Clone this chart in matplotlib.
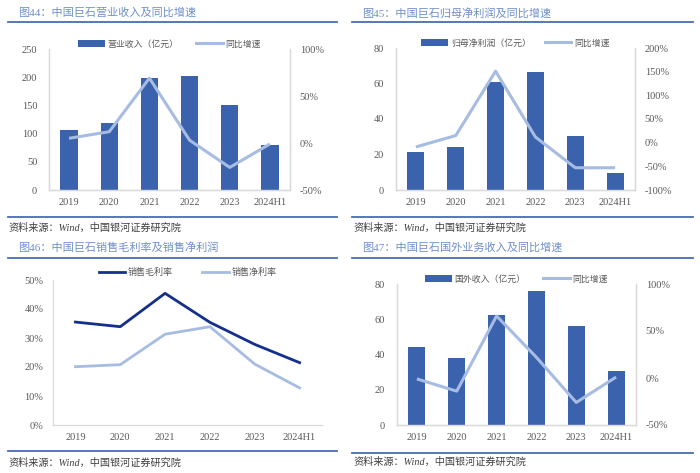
import matplotlib
matplotlib.use('Agg')
import matplotlib.pyplot as plt
from matplotlib.patches import Patch
from matplotlib.lines import Line2D
from matplotlib.ticker import FuncFormatter, FixedLocator

# ---------------- data ----------------
years = ['2019', '2020', '2021', '2022', '2023', '2024H1']
revenue = [106, 118, 199, 203, 150, 79]            # 亿元
revenue_yoy = [5, 12, 69, 3, -26, -1]               # %
net_profit = [21.5, 24.4, 60.7, 66.5, 30.7, 9.7]    # 亿元
net_profit_yoy = [-9, 15, 151, 12, -53, -53]        # %
gross_margin = [35.5, 33.9, 45.4, 35.4, 27.8, 21.5] # %
net_margin = [20.1, 20.8, 31.3, 33.9, 21.0, 12.8]   # %
overseas = [44.2, 37.8, 62.2, 75.8, 56.1, 30.6]     # 亿元
overseas_yoy = [-1, -14, 66, 22, -26, 1]            # %

titles = ['图44：中国巨石营业收入及同比增速',
          '图45：中国巨石归母净利润及同比增速',
          '图46：中国巨石销售毛利率及销售净利润',
          '图47：中国巨石国外业务收入及同比增速']
source = '资料来源：Wind，中国银河证券研究院'

# ---------------- style ----------------
W, H = 700, 473
BAR = '#3A62AD'
LIGHT = '#A6BCE3'
DARK = '#14308C'
TITLE_C = '#6F8FCB'
SEP_C = '#4A6CB3'
AX_C = '#D9D9D9'
TXT_C = '#595959'
CJK = ['Noto Sans CJK SC', 'DejaVu Sans']
SERIF = ['Liberation Serif', 'Noto Sans CJK SC']

plt.rcParams['font.family'] = CJK

fig = plt.figure(figsize=(7, 4.73), dpi=100)
fig.patch.set_facecolor('white')


def axes_px(x0, y0, x1, y1):
    return fig.add_axes([x0 / W, 1 - y1 / H, (x1 - x0) / W, (y1 - y0) / H])


def hline(x0, x1, y):
    fig.add_artist(Line2D([x0 / W, x1 / W], [1 - y / H, 1 - y / H],
                          transform=fig.transFigure, color=SEP_C, lw=1.3))


def frame(x0, x1, ytitle, ysep1, ysep2, ysrc, title, xtitle, xsrc):
    fig.text(xtitle / W, 1 - ytitle / H, title, ha='left', va='center',
             fontsize=8.0, color=TITLE_C, family=SERIF)
    hline(x0, x1, ysep1)
    hline(x0, x1, ysep2)
    fig.text(xsrc / W, 1 - ysrc / H, source, ha='left', va='center',
             fontsize=7.3, color='#404040', family=SERIF, style='italic')


def style_axes(ax, left=True, right=False):
    ax.spines['top'].set_visible(False)
    ax.spines['left'].set_visible(left)
    ax.spines['right'].set_visible(right)
    for s in ['left', 'right', 'bottom']:
        ax.spines[s].set_color(AX_C)
        ax.spines[s].set_linewidth(0.9)
    ax.tick_params(length=0, labelsize=7.5, labelcolor=TXT_C)
    for lab in ax.get_xticklabels() + ax.get_yticklabels():
        lab.set_family(SERIF)


def pct(v, pos):
    return f'{v:.0f}%'


def bar_line_panel(box, bars, yoy, bar_label, lticks, rticks, colspace):
    x = list(range(len(years)))
    ax = axes_px(*box)
    ax.bar(x, bars, width=0.43, color=BAR, zorder=2)
    ax.set_xlim(-0.5, len(years) - 0.5)
    ax.set_ylim(lticks[0], lticks[-1])
    ax.yaxis.set_major_locator(FixedLocator(lticks))
    ax.set_xticks(x)
    ax.set_xticklabels(years)
    ax2 = ax.twinx()
    ax2.plot(x, yoy, color=LIGHT, lw=2.2, solid_capstyle='butt', zorder=3)
    ax2.set_ylim(rticks[0], rticks[-1])
    ax2.yaxis.set_major_locator(FixedLocator(rticks))
    ax2.yaxis.set_major_formatter(FuncFormatter(pct))
    for a in (ax, ax2):
        a.set_facecolor('none')
        style_axes(a, left=True, right=True)
    ax.tick_params(axis='y', pad=8.5)
    ax.tick_params(axis='x', pad=6)
    ax2.tick_params(axis='y', pad=7)
    handles = [Patch(facecolor=BAR, edgecolor='none'),
               Line2D([], [], color=LIGHT, lw=2.2)]
    ax2.legend(handles, [bar_label, '同比增速'], ncol=2, loc='center',
               bbox_to_anchor=(0.5, 1.035), frameon=False,
               prop={'family': CJK, 'size': 6.4}, labelcolor=TXT_C,
               handlelength=3.0, handleheight=0.7, handletextpad=0.3,
               columnspacing=colspace, borderaxespad=0, borderpad=0)
    return ax, ax2


# ---------------- panel 1 ----------------
frame(8, 337, 13, 22, 217, 228, titles[0], 18, 8)
bar_line_panel((49, 49, 290, 190), revenue, revenue_yoy, '营业收入（亿元）',
               [0, 50, 100, 150, 200, 250], [-50, 0, 50, 100], 2.0)

# ---------------- panel 2 ----------------
frame(352, 693, 13, 22, 217, 228, titles[1], 362, 353)
bar_line_panel((396, 48, 635, 190), net_profit, net_profit_yoy, '归母净利润（亿元）',
               [0, 20, 40, 60, 80], [-100, -50, 0, 50, 100, 150, 200], 1.6)

# ---------------- panel 3 ----------------
frame(8, 337, 248, 258, 451, 463, titles[2], 18, 8)
ax3 = axes_px(53, 280, 322, 425)
x = list(range(len(years)))
ax3.plot(x, gross_margin, color=DARK, lw=2.0, label='销售毛利率')
ax3.plot(x, net_margin, color=LIGHT, lw=2.0, label='销售净利率')
ax3.set_xlim(-0.5, len(years) - 0.5)
ax3.set_ylim(0, 50)
ax3.yaxis.set_major_locator(FixedLocator([0, 10, 20, 30, 40, 50]))
ax3.yaxis.set_major_formatter(FuncFormatter(pct))
ax3.set_xticks(x)
ax3.set_xticklabels(years)
style_axes(ax3, left=True, right=False)
ax3.tick_params(axis='y', pad=7)
ax3.tick_params(axis='x', pad=6)
ax3.legend(ncol=2, loc='center', bbox_to_anchor=(0.5, 1.05), frameon=False,
           prop={'family': CJK, 'size': 6.5}, labelcolor=TXT_C,
           handlelength=2.9, handletextpad=0.3, columnspacing=3.3,
           borderaxespad=0, borderpad=0)

# ---------------- panel 4 ----------------
frame(352, 693, 248, 258, 453, 462, titles[3], 362, 353)
bar_line_panel((397, 284, 636, 425), overseas, overseas_yoy, '国外收入（亿元）',
               [0, 20, 40, 60, 80], [-50, 0, 50, 100], 2.0)

fig.savefig('out.png', dpi=100, facecolor='white')
